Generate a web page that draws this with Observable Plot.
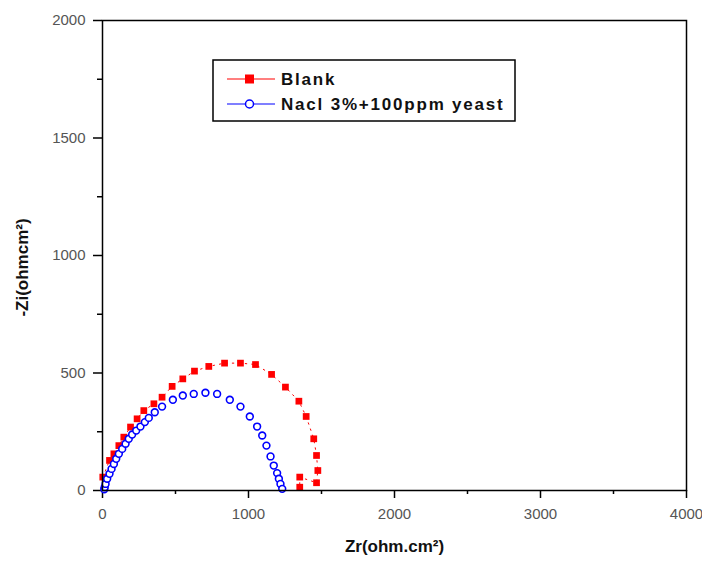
<!DOCTYPE html>
<html>
<head>
<meta charset="utf-8">
<script src="https://cdn.jsdelivr.net/npm/d3@7"></script>
<script src="https://cdn.jsdelivr.net/npm/@observablehq/plot@0.6"></script>
<style>
  html, body { margin: 0; padding: 0; background: #fff; }
  svg { font-family: "Liberation Sans", Arial, sans-serif; }
</style>
</head>
<body>
<div id="chart"></div>
<script>
// Blank series (Zr, -Zi)
const blankZr = [2, 48, 78, 112, 146, 192, 237, 283, 352, 408, 477, 550, 630, 728, 836, 945, 1048, 1158, 1253, 1345, 1395, 1447, 1466, 1475, 1466, 1351, 1351];
const blankZi = [57, 128, 156, 191, 227, 270, 305, 340, 369, 397, 443, 475, 508, 528, 542, 542, 536, 494, 440, 380, 315, 220, 149, 85, 33, 57, 14];

// NaCl 3% + 100ppm yeast series
const yeastZr = [12, 15, 21, 32, 48, 62, 78, 94, 112, 135, 158, 180, 203, 231, 260, 290, 317, 358, 408, 482, 550, 625, 705, 785, 872, 945, 1009, 1059, 1094, 1123, 1151, 1173, 1196, 1208, 1219, 1231];
const yeastZi = [5, 14, 28, 50, 71, 92, 113, 135, 156, 177, 199, 220, 238, 255, 272, 291, 309, 333, 357, 386, 404, 411, 416, 411, 386, 357, 315, 272, 234, 191, 145, 106, 74, 50, 28, 7];

const xMajor = [0, 1000, 2000, 3000, 4000];
const xMinor = [500, 1500, 2500, 3500];
const yMajor = [0, 500, 1000, 1500, 2000];
const yMinor = [250, 750, 1250, 1750];

const seriesNames = ["Blank", "Nacl 3%+100ppm yeast"];
const xTitle = "Zr(ohm.cm²)";
const yTitle = "-Zi(ohmcm²)";

const blank = blankZr.map((x, i) => ({x, y: blankZi[i]}));
const yeast = yeastZr.map((x, i) => ({x, y: yeastZi[i]}));

const red = "#ff0000";
const blue = "#0000ff";
const tickColor = "#555";

const plot = Plot.plot({
  width: 702,
  height: 561,
  marginLeft: 102,
  marginRight: 16,
  marginTop: 20,
  marginBottom: 71,
  style: {fontFamily: "Liberation Sans, Arial, sans-serif", background: "#fff"},
  x: {domain: [0, 4000]},
  y: {domain: [0, 2000]},
  marks: [
    Plot.axisX({ticks: xMajor, tickSize: 8, tickPadding: 10, fontSize: 15, label: null, tickFormat: d => String(d), stroke: "black", strokeWidth: 1.5, fill: tickColor}),
    Plot.axisX({ticks: xMinor, tickSize: 4, text: null, label: null, stroke: "black", strokeWidth: 1.5}),
    Plot.axisY({ticks: yMajor, tickSize: 9, tickPadding: 8, fontSize: 15, label: null, tickFormat: d => String(d), stroke: "black", strokeWidth: 1.5, fill: tickColor}),
    Plot.axisY({ticks: yMinor, tickSize: 5, text: null, label: null, stroke: "black", strokeWidth: 1.5}),
    Plot.line(blank, {x: "x", y: "y", stroke: red, strokeWidth: 1, strokeDasharray: "1.5,5", curve: "linear"}),
    Plot.dot(blank, {x: "x", y: "y", symbol: "square", r: 3.8, fill: red, stroke: "none"}),
    Plot.dot(yeast, {x: "x", y: "y", symbol: "circle", r: 3.4, fill: "white", stroke: blue, strokeWidth: 1.6}),
    Plot.frame({stroke: "black", strokeWidth: 1.5}),
    Plot.text([xTitle], {frameAnchor: "bottom", dy: 61, textAnchor: "middle", text: d => d, fontSize: 17, fontWeight: "bold", fill: "#111", style: {letterSpacing: "1px"}}),
    Plot.text([yTitle], {frameAnchor: "left", dx: -80, dy: 12, textAnchor: "middle", rotate: -90, text: d => d, fontSize: 17, fontWeight: "bold", fill: "#111", style: {letterSpacing: "0.7px"}})
  ]
});

document.getElementById("chart").appendChild(plot);

// Legend box
const svg = d3.select(plot);
const lg = svg.append("g").attr("font-family", "Liberation Sans, Arial, sans-serif").attr("text-anchor", "start");
lg.append("rect").attr("x", 213).attr("y", 60).attr("width", 302).attr("height", 61)
  .attr("fill", "white").attr("stroke", "black").attr("stroke-width", 1.5);
const rows = [
  {name: seriesNames[0], color: red, y: 79, sym: "square"},
  {name: seriesNames[1], color: blue, y: 104, sym: "circle"}
];
rows.forEach(r => {
  lg.append("line").attr("x1", 227).attr("x2", 275).attr("y1", r.y).attr("y2", r.y)
    .attr("stroke", r.color).attr("stroke-width", 1.2);
  if (r.sym === "square") {
    lg.append("rect").attr("x", 245).attr("y", r.y - 4.5).attr("width", 9).attr("height", 9).attr("fill", r.color);
  } else {
    lg.append("circle").attr("cx", 249.5).attr("cy", r.y).attr("r", 4).attr("fill", "white")
      .attr("stroke", r.color).attr("stroke-width", 1.5);
  }
  lg.append("text").attr("x", 281).attr("y", r.y).attr("dy", "0.35em").attr("text-anchor", "start")
    .attr("font-size", 17).attr("font-weight", "bold").attr("letter-spacing", "1.8px")
    .attr("fill", "#111").text(r.name);
});
</script>
</body>
</html>
